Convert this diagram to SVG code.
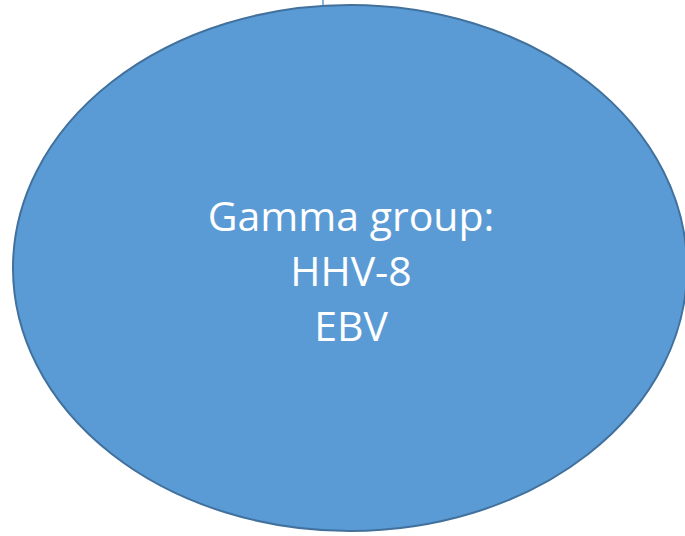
<svg xmlns="http://www.w3.org/2000/svg" width="685" height="536" viewBox="0 0 685 536">
<style>
.lbl{font-family:"Open Sans","Noto Sans",sans-serif;font-size:41px;fill:#ffffff;text-anchor:middle}
</style>
<rect width="685" height="536" fill="#ffffff"/>
<g id="connectors">
<line x1="323" y1="0" x2="323" y2="9" stroke="#5b9bd5" stroke-width="1.5"/>
</g>
<g id="node-gamma">
<ellipse cx="350" cy="268" rx="337" ry="263" fill="#5b9bd5" stroke="#41719c" stroke-width="2"/>
<text class="lbl" x="351" y="231">Gamma group:</text>
<text class="lbl" x="351" y="286">HHV-8</text>
<text class="lbl" x="351" y="341">EBV</text>
</g>
</svg>
